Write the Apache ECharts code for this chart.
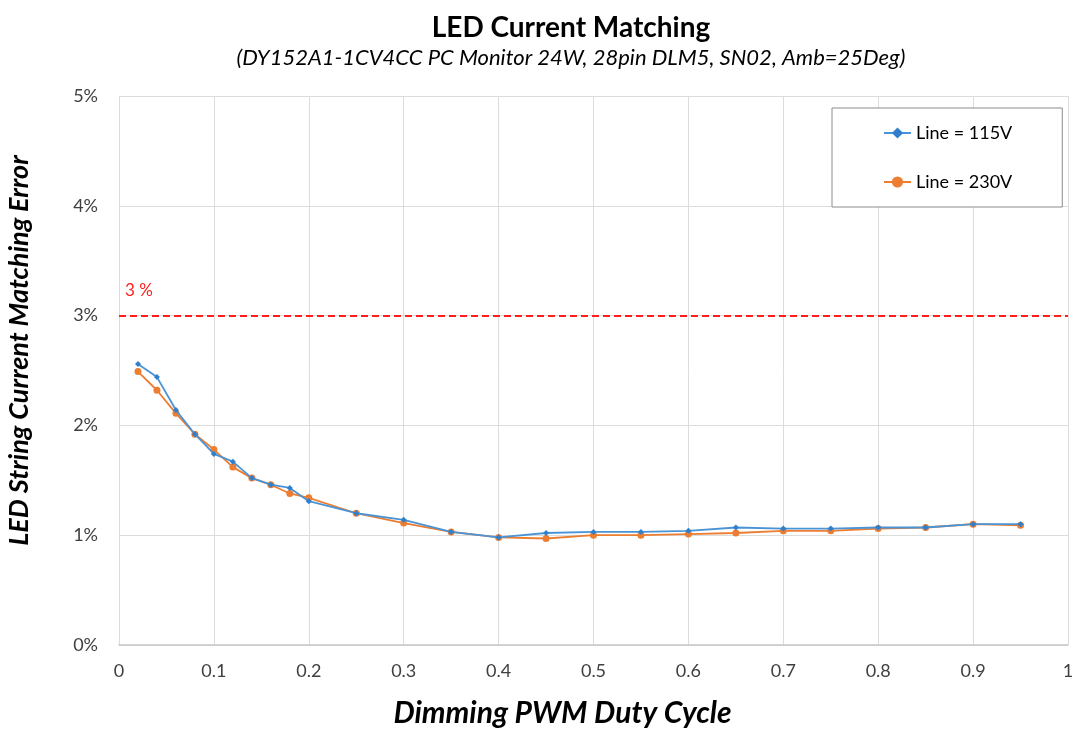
<!DOCTYPE html>
<html>
<head>
<meta charset="utf-8">
<title>LED Current Matching</title>
<script src="https://cdn.jsdelivr.net/npm/echarts@6/dist/echarts.min.js"></script>
<style>
  html, body { margin: 0; padding: 0; background: #ffffff; overflow: hidden; }
  #chart { width: 1072px; height: 730px; }
</style>
</head>
<body>
<div id="chart"></div>
<script>
// PWM duty cycle sample points
const dutyCycle = [0.02, 0.04, 0.06, 0.08, 0.10, 0.12, 0.14, 0.16, 0.18, 0.20,
                   0.25, 0.30, 0.35, 0.40, 0.45, 0.50, 0.55, 0.60, 0.65, 0.70,
                   0.75, 0.80, 0.85, 0.90, 0.95];

// String current matching error (%) per line voltage
const error115V = [2.56, 2.44, 2.14, 1.92, 1.74, 1.67, 1.52, 1.46, 1.43, 1.31,
                   1.20, 1.14, 1.03, 0.98, 1.02, 1.03, 1.03, 1.04, 1.07, 1.06,
                   1.06, 1.07, 1.07, 1.10, 1.10];
const error230V = [2.49, 2.32, 2.11, 1.92, 1.78, 1.62, 1.52, 1.46, 1.38, 1.34,
                   1.20, 1.11, 1.03, 0.98, 0.97, 1.00, 1.00, 1.01, 1.02, 1.04,
                   1.04, 1.06, 1.07, 1.10, 1.09];

// Limit line (%)
const limitValue = 3;

const seriesNames = ['Line = 115V', 'Line = 230V'];

const font = 'Lato, "Open Sans", sans-serif';

const pairs = (ys) => dutyCycle.map((x, i) => [x, ys[i]]);

const chart = echarts.init(document.getElementById('chart'), null, { renderer: 'canvas' });

chart.setOption({
  backgroundColor: '#ffffff',
  animation: false,
  title: {
    text: 'LED Current Matching',
    subtext: '(DY152A1-1CV4CC PC Monitor 24W, 28pin DLM5, SN02, Amb=25Deg)',
    left: 566,
    textAlign: 'center',
    top: 7,
    itemGap: 1,
    textStyle: { fontFamily: font, fontSize: 28, fontWeight: 'bold', color: '#000000', lineHeight: 32 },
    subtextStyle: { fontFamily: font, fontSize: 22, fontStyle: 'italic', color: '#000000', lineHeight: 26 }
  },
  legend: {
    orient: 'vertical',
    left: 832,
    top: 108,
    data: seriesNames,
    itemWidth: 27,
    itemHeight: 14,
    itemGap: 31,
    padding: [16, 50, 16, 51],
    borderColor: '#8c8c8c',
    borderWidth: 1,
    backgroundColor: '#ffffff',
    textStyle: { fontFamily: font, fontSize: 18, color: '#000000', lineHeight: 18 }
  },
  grid: { left: 119, right: 4, top: 96, bottom: 85, outerBoundsMode: 'none' },
  xAxis: {
    type: 'value',
    min: 0,
    max: 1,
    interval: 0.1,
    name: 'Dimming PWM Duty Cycle',
    nameLocation: 'middle',
    nameGap: 53,
    nameTextStyle: {
      fontFamily: font, fontSize: 30, fontWeight: 'bold', fontStyle: 'italic', color: '#000000',
      padding: [0, 62, 0, 0]
    },
    axisLine: { show: true, lineStyle: { color: '#c8c8c8', width: 1.5 } },
    axisTick: { show: false },
    axisLabel: { fontFamily: font, fontSize: 18, color: '#404040', margin: 17 },
    splitLine: { show: true, lineStyle: { color: '#dcdcdc', width: 1 } }
  },
  yAxis: {
    type: 'value',
    min: 0,
    max: 5,
    interval: 1,
    name: 'LED String Current Matching Error',
    nameLocation: 'middle',
    nameGap: 86,
    nameRotate: 90,
    nameTextStyle: {
      fontFamily: font, fontSize: 27, fontWeight: 'bold', fontStyle: 'italic', color: '#000000',
      padding: [0, 0, 0, 40]
    },
    axisLine: { show: false },
    axisTick: { show: false },
    axisLabel: { fontFamily: font, fontSize: 18, color: '#404040', margin: 21, formatter: '{value}%' },
    splitLine: { show: true, lineStyle: { color: '#dcdcdc', width: 1 } }
  },
  series: [
    {
      name: seriesNames[0],
      type: 'line',
      data: pairs(error115V),
      symbol: 'diamond',
      symbolSize: 6,
      itemStyle: { color: '#2f7fcc' },
      lineStyle: { color: '#4a94d6', width: 1.8 },
      z: 3,
      markLine: {
        silent: true,
        symbol: 'none',
        lineStyle: { color: '#ff1f1f', type: [7, 4], width: 2 },
        label: {
          show: true,
          position: 'insideStartTop',
          formatter: limitValue + ' %',
          color: '#ff1f1f',
          fontFamily: font,
          fontSize: 17,
          distance: [6, 17]
        },
        data: [{ yAxis: limitValue }]
      }
    },
    {
      name: seriesNames[1],
      type: 'line',
      data: pairs(error230V),
      symbol: 'circle',
      symbolSize: 7,
      itemStyle: { color: '#ed7d31' },
      lineStyle: { color: '#ed7d31', width: 1.8 },
      z: 2
    }
  ]
});
</script>
</body>
</html>
